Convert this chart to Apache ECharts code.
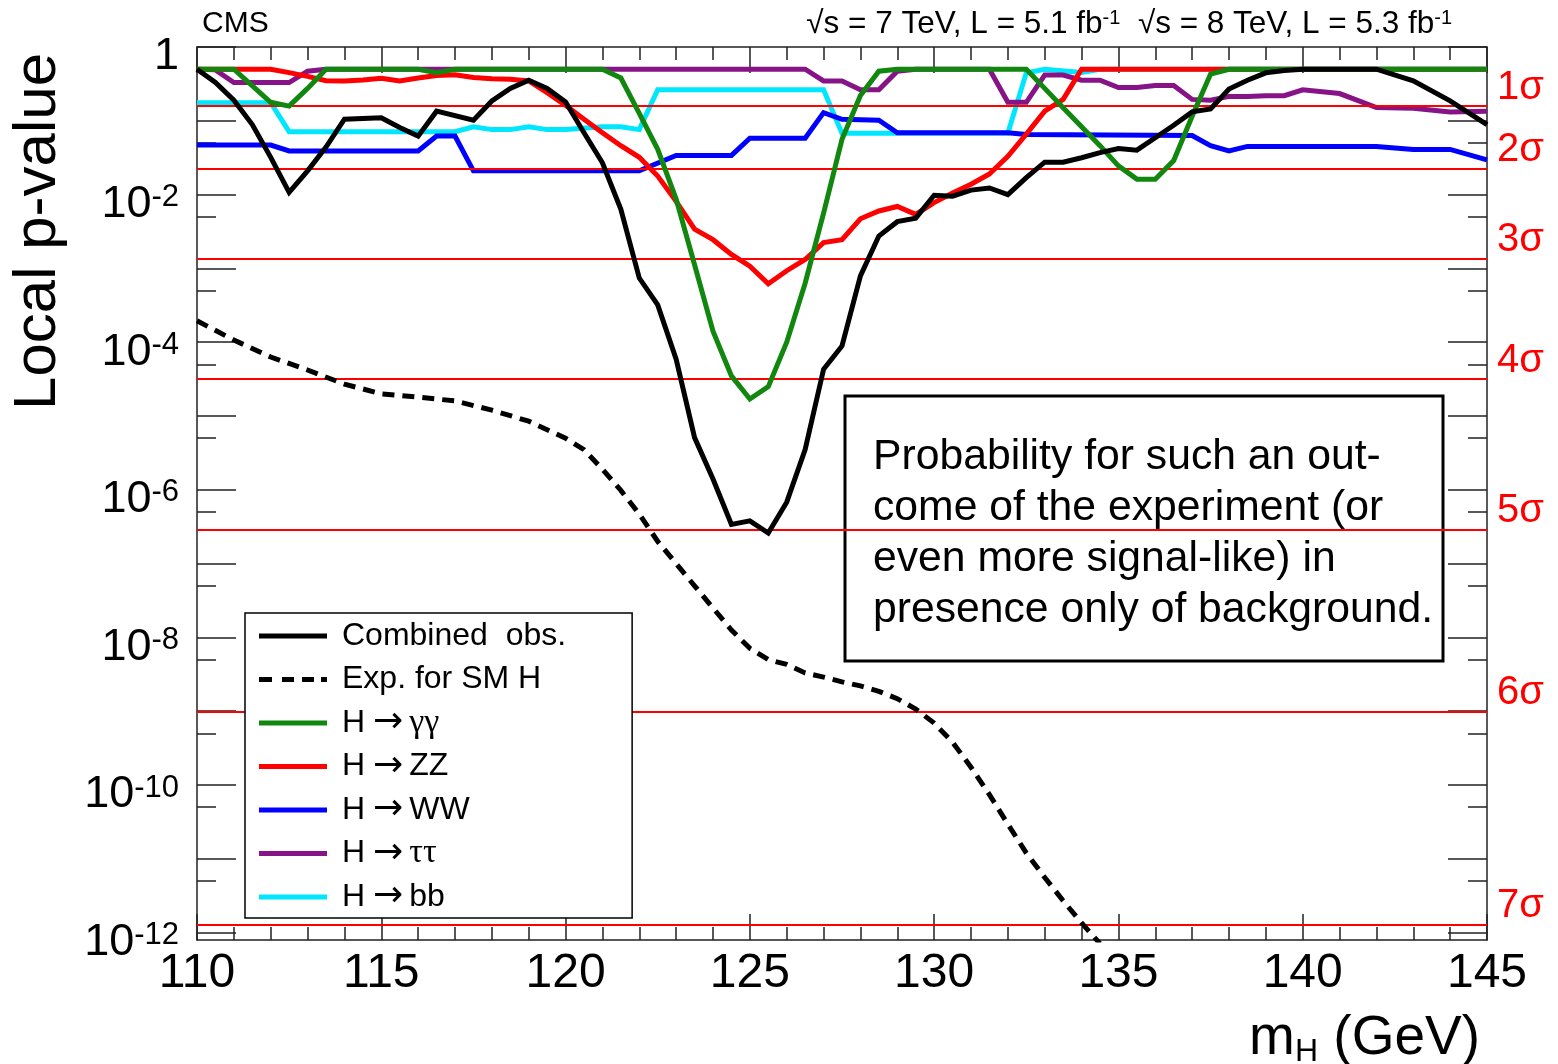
<!DOCTYPE html>
<html>
<head>
<meta charset="utf-8">
<script src="https://cdn.jsdelivr.net/npm/echarts@6/dist/echarts.min.js"></script>
<style>
  html, body { margin: 0; padding: 0; background: #fff; }
  #chart { width: 1558px; height: 1064px; }
</style>
</head>
<body>
<div id="chart"></div>
<script>
// Local p-value versus Higgs boson mass hypothesis, combined and per decay channel.
const FONT = '"Liberation Sans", Arial, Helvetica, sans-serif';

// Combined observed
const massCombined = [110, 110.5, 111, 111.5, 112, 112.5, 113, 113.5, 114, 115, 115.5, 116, 116.5, 117.5, 118, 118.5, 119, 119.5, 120, 120.5, 121, 121.5, 122, 122.5, 123, 123.5, 124, 124.5, 125, 125.5, 126, 126.5, 127, 127.5, 128, 128.5, 129, 129.5, 130, 130.5, 131, 131.5, 132, 132.5, 133, 133.5, 134, 134.5, 135, 135.5, 136, 136.5, 137, 137.5, 138, 138.5, 139, 139.5, 140, 142, 143, 144, 145];
const pCombined = [0.5, 0.33, 0.19, 0.089, 0.032, 0.0107, 0.021, 0.044, 0.105, 0.11, 0.081, 0.062, 0.135, 0.102, 0.186, 0.275, 0.355, 0.275, 0.18, 0.069, 0.027, 6.3e-3, 7.4e-4, 3.2e-4, 5.9e-5, 5.1e-6, 1.4e-6, 3.4e-7, 3.8e-7, 2.6e-7, 6.8e-7, 3.5e-6, 4.3e-5, 8.9e-5, 7.9e-4, 2.75e-3, 4.3e-3, 4.8e-3, 9.8e-3, 9.5e-3, 0.0115, 0.0123, 0.010, 0.017, 0.0275, 0.0275, 0.0316, 0.037, 0.042, 0.040, 0.059, 0.087, 0.132, 0.145, 0.27, 0.355, 0.447, 0.48, 0.5, 0.5, 0.347, 0.186, 0.089];

// Expected for a SM Higgs boson
const massExpected = [110, 111, 112, 113, 114, 115, 116, 117, 118, 119, 120, 120.5, 121, 121.5, 122, 122.5, 123, 123.5, 124, 124.5, 125, 125.5, 126, 126.5, 127, 127.5, 128, 128.5, 129, 129.5, 130, 130.5, 131, 131.5, 132, 132.5, 133, 133.5, 134, 134.5];
const pExpected = [1.95e-4, 1.07e-4, 6.3e-5, 4.2e-5, 2.7e-5, 2.0e-5, 1.8e-5, 1.6e-5, 1.2e-5, 8.5e-6, 5.0e-6, 3.5e-6, 1.9e-6, 9.8e-7, 4.7e-7, 2.0e-7, 1.0e-7, 5.0e-8, 2.5e-8, 1.26e-8, 7.1e-9, 5.0e-9, 4.3e-9, 3.3e-9, 2.9e-9, 2.5e-9, 2.2e-9, 1.86e-9, 1.48e-9, 1.07e-9, 6.9e-10, 3.8e-10, 1.74e-10, 7.4e-11, 2.95e-11, 1.2e-11, 5.6e-12, 2.7e-12, 1.35e-12, 7.1e-13];

// H -> gamma gamma
const massGG = [110, 111, 112, 112.5, 113, 113.5, 116, 116.5, 117, 121, 121.5, 122, 122.5, 123, 123.5, 124, 124.5, 125, 125.5, 126, 126.5, 127, 127.5, 128, 128.5, 129, 132.5, 133, 133.5, 134, 134.5, 135, 135.5, 136, 136.5, 137, 137.5, 138, 145];
const pGG = [0.5, 0.5, 0.178, 0.158, 0.275, 0.5, 0.5, 0.447, 0.5, 0.5, 0.38, 0.126, 0.041, 8.7e-3, 1.12e-3, 1.41e-4, 3.5e-5, 1.7e-5, 2.5e-5, 1.0e-4, 6.3e-4, 5.6e-3, 0.056, 0.22, 0.47, 0.5, 0.5, 0.275, 0.15, 0.083, 0.046, 0.0245, 0.0162, 0.0162, 0.029, 0.115, 0.43, 0.5, 0.5];

// H -> ZZ
const massZZ = [110, 112, 112.5, 113, 113.5, 114, 114.5, 115, 115.5, 116, 116.5, 117, 117.5, 118, 118.5, 119, 119.5, 120, 120.5, 121, 121.5, 122, 122.5, 123, 123.5, 124, 124.5, 125, 125.5, 126, 126.5, 127, 127.5, 128, 128.5, 129, 129.5, 130, 130.5, 131, 131.5, 132, 132.5, 133, 133.5, 134, 145];
const pZZ = [0.5, 0.5, 0.45, 0.40, 0.35, 0.347, 0.357, 0.377, 0.347, 0.38, 0.41, 0.42, 0.385, 0.37, 0.365, 0.347, 0.24, 0.162, 0.105, 0.069, 0.046, 0.032, 0.0178, 8.1e-3, 3.4e-3, 2.45e-3, 1.55e-3, 1.07e-3, 6.2e-4, 9.3e-4, 1.32e-3, 2.24e-3, 2.45e-3, 4.7e-3, 6.0e-3, 6.9e-3, 5.4e-3, 7.8e-3, 0.0105, 0.0138, 0.019, 0.033, 0.066, 0.135, 0.195, 0.5, 0.5];

// H -> WW
const massWW = [110, 112, 112.5, 116, 116.5, 117, 117.5, 122, 123, 124.5, 125, 126.5, 127, 127.5, 128.5, 129, 132, 132.5, 137, 137.5, 138, 138.5, 142, 143, 144, 145];
const pWW = [0.047, 0.047, 0.039, 0.039, 0.062, 0.062, 0.021, 0.021, 0.034, 0.034, 0.058, 0.058, 0.129, 0.105, 0.102, 0.069, 0.069, 0.065, 0.063, 0.046, 0.039, 0.045, 0.045, 0.041, 0.041, 0.0295];

// H -> tau tau
const massTT = [110, 110.5, 111, 112.5, 113, 113.5, 126.5, 127, 127.5, 128, 128.5, 129, 129.5, 131.5, 132, 132.5, 133, 133.5, 134, 134.5, 135, 135.5, 136, 136.5, 137, 137.5, 138, 138.5, 139, 139.5, 140, 141, 142, 143, 144, 145];
const pTT = [0.5, 0.49, 0.33, 0.33, 0.47, 0.5, 0.5, 0.347, 0.347, 0.263, 0.263, 0.47, 0.5, 0.5, 0.178, 0.178, 0.417, 0.417, 0.355, 0.355, 0.282, 0.282, 0.30, 0.30, 0.195, 0.19, 0.214, 0.214, 0.219, 0.219, 0.263, 0.234, 0.151, 0.148, 0.132, 0.135];

// H -> bb
const massBB = [110, 112, 112.5, 117, 117.5, 118, 118.5, 119, 119.5, 120, 121, 121.5, 122, 122.5, 127, 127.5, 132, 132.5, 133, 134, 134.5, 145];
const pBB = [0.176, 0.176, 0.0713, 0.0713, 0.083, 0.076, 0.076, 0.083, 0.076, 0.076, 0.083, 0.083, 0.076, 0.263, 0.263, 0.0676, 0.0676, 0.447, 0.5, 0.45, 0.5, 0.5];

// One-sided significance thresholds
const sigmaNames = ['1σ', '2σ', '3σ', '4σ', '5σ', '6σ', '7σ'];
const sigmaP = [0.1587, 0.02275, 1.350e-3, 3.167e-5, 2.867e-7, 9.866e-10, 1.280e-12];

// Axis ticks and labels
const xTickMin = 110, xTickMax = 145, xTickStep = 5;
const yRangeMin = 7.94e-13, yRangeMax = 1;
const decadeTicks = [1, 1e-1, 1e-2, 1e-3, 1e-4, 1e-5, 1e-6, 1e-7, 1e-8, 1e-9, 1e-10, 1e-11, 1e-12];
const halfDecadeTicks = [5e-1, 5e-2, 5e-3, 5e-4, 5e-5, 5e-6, 5e-7, 5e-8, 5e-9, 5e-10, 5e-11, 5e-12];
const labelledDecades = [1, 1e-2, 1e-4, 1e-6, 1e-8, 1e-10, 1e-12];

const noteLines = [
  'Probability for such an out-',
  'come of the experiment (or',
  'even more signal-like) in',
  'presence only of background.'
];

const pairs = (m, p) => m.map((x, i) => [x, p[i]]);
const AXIS_COLOR = '#222';

// legend keys: solid bar, and a dashed bar for the expectation
const SOLID_KEY = 'path://M0,0h68v5h-68z';
const DASH_KEY = 'path://M0,0h13v5h-13z M23,0h12v5h-12z M43,0h12v5h-12z M62,0h6v5h-6z';

function xAxisDef(position, showLabels) {
  return {
    type: 'value', position, min: xTickMin, max: xTickMax, interval: xTickStep,
    axisLine: { show: true, lineStyle: { color: AXIS_COLOR, width: 1.5 } },
    axisTick: { show: true, inside: true, length: 26, lineStyle: { color: AXIS_COLOR, width: 1.5 } },
    minorTick: { show: true, splitNumber: 5, length: 13, lineStyle: { color: AXIS_COLOR, width: 1.5 } },
    splitLine: { show: false },
    axisLabel: {
      show: showLabels, fontSize: 48, fontFamily: FONT, color: '#000', margin: 10,
      showMinLabel: true, showMaxLabel: true
    }
  };
}

function yAxisDef(position, tickValues, tickLen, withLine) {
  return {
    type: 'log', logBase: 10, position, min: yRangeMin, max: yRangeMax,
    axisLine: { show: withLine, lineStyle: { color: AXIS_COLOR, width: 1.5 } },
    axisTick: { show: true, inside: true, length: tickLen, customValues: tickValues,
                lineStyle: { color: AXIS_COLOR, width: 1.5 } },
    minorTick: { show: false },
    splitLine: { show: false },
    axisLabel: { show: false }
  };
}

const yMain = yAxisDef('left', decadeTicks, 39, true);
yMain.axisLabel = {
  show: true, customValues: labelledDecades, margin: 18, color: '#000',
  padding: [20, 0, 0, 0],
  formatter: function (v) {
    const e = Math.round(Math.log10(v));
    return e === 0 ? '{b|1}' : '{b|10}{s|' + e + '}';
  },
  rich: {
    b: { fontSize: 45, fontFamily: FONT, color: '#000', lineHeight: 45 },
    s: { fontSize: 31, fontFamily: FONT, color: '#000', lineHeight: 31, verticalAlign: 'top' }
  }
};

function lineSeries(name, data, color, z, dashed) {
  return {
    name, type: 'line', data, xAxisIndex: 0, yAxisIndex: 0, z,
    symbol: 'none', showSymbol: false, clip: true, silent: true,
    lineStyle: { color, width: 5, type: dashed ? [12, 8] : 'solid', cap: 'butt', join: 'miter' },
    itemStyle: { color }
  };
}

const legendNames = ['Combined  obs.', 'Exp. for SM H', 'H → γγ', 'H → ZZ', 'H → WW', 'H → ττ', 'H → bb'];

const option = {
  animation: false,
  backgroundColor: '#fff',
  textStyle: { fontFamily: FONT },
  grid: { left: 197, right: 71, top: 47, bottom: 124, containLabel: false, outerBoundsMode: 'none' },
  xAxis: [xAxisDef('bottom', true), xAxisDef('top', false)],
  yAxis: [
    yMain,
    yAxisDef('left', halfDecadeTicks, 19, false),
    yAxisDef('right', decadeTicks, 39, true),
    yAxisDef('right', halfDecadeTicks, 19, false)
  ],
  legend: {
    left: 245, top: 613, orient: 'vertical',
    data: legendNames.map((n, i) => ({ name: n, icon: i === 1 ? DASH_KEY : SOLID_KEY })),
    itemWidth: 68, itemHeight: 5, itemGap: 7.5,
    padding: [5, 66, 3, 14],
    backgroundColor: '#fff', borderColor: '#000', borderWidth: 1.5, borderRadius: 0,
    selectedMode: false, z: 20,
    formatter: function (name) {
      return '{n|' + name.replace(' → ', '}{r|→}{n|').replace(/([γτ]+)/, '}{g|$1') + '}';
    },
    textStyle: {
      fontSize: 32, fontFamily: FONT, color: '#000', lineHeight: 36, padding: [0, 0, 0, 10],
      rich: {
        n: { fontSize: 32, fontFamily: FONT, color: '#000', lineHeight: 36 },
        r: { fontSize: 36, fontFamily: '"DejaVu Sans", sans-serif', color: '#000', lineHeight: 36, padding: [0, 6, 0, 8] },
        g: { fontSize: 34, fontFamily: '"Liberation Serif", "DejaVu Serif", serif', color: '#000', lineHeight: 36 }
      }
    }
  },
  series: [
    {
      name: 'sigma', type: 'line', data: [], xAxisIndex: 0, yAxisIndex: 0, z: 1, silent: true,
      markLine: {
        silent: true, symbol: ['none', 'none'], animation: false, precision: 20,
        lineStyle: { color: '#ff0000', width: 2, type: 'solid' },
        label: {
          show: true, position: 'end', distance: 10, formatter: '{b}',
          color: '#ff0000', fontSize: 40, fontFamily: FONT, lineHeight: 37,
          verticalAlign: 'bottom', align: 'left'
        },
        emphasis: { disabled: true },
        data: sigmaNames.map((n, i) => ({ name: n, yAxis: sigmaP[i] }))
      }
    },
    lineSeries('H → bb', pairs(massBB, pBB), '#00e6ff', 2),
    lineSeries('H → ττ', pairs(massTT, pTT), '#861487', 3),
    lineSeries('H → WW', pairs(massWW, pWW), '#0000ff', 4),
    lineSeries('H → ZZ', pairs(massZZ, pZZ), '#ff0000', 5),
    lineSeries('H → γγ', pairs(massGG, pGG), '#12870f', 6),
    lineSeries('Exp. for SM H', pairs(massExpected, pExpected), '#000000', 7, true),
    lineSeries('Combined  obs.', pairs(massCombined, pCombined), '#000000', 8)
  ],
  graphic: [
    {
      type: 'text', x: 38, y: 53, rotation: Math.PI / 2, z: 30,
      style: { text: 'Local p-value', fontSize: 60, fontFamily: FONT, fill: '#000', align: 'right', verticalAlign: 'middle' }
    },
    {
      type: 'text', x: 1480, y: 1066, z: 30,
      style: {
        text: '{a|m}{h|H}{a| (GeV)}', align: 'right', verticalAlign: 'bottom', fill: '#000',
        rich: {
          a: { fontSize: 55, fontFamily: FONT, fill: '#000', lineHeight: 55, verticalAlign: 'top' },
          h: { fontSize: 32, fontFamily: FONT, fill: '#000', lineHeight: 32, padding: [28, 0, 0, 0] }
        }
      }
    },
    {
      type: 'text', x: 202, y: 24, z: 30,
      style: { text: 'CMS', fontSize: 30, fontFamily: FONT, fill: '#000', align: 'left', verticalAlign: 'middle' }
    },
    {
      type: 'text', x: 1452, y: 24, z: 30,
      style: {
        text: '{t|√s = 7 TeV, L = 5.1 fb}{s|-1}{t|  √s = 8 TeV, L = 5.3 fb}{s|-1}',
        align: 'right', verticalAlign: 'middle', fill: '#000',
        rich: {
          t: { fontSize: 31.5, fontFamily: FONT, fill: '#000', lineHeight: 31 },
          s: { fontSize: 20, fontFamily: FONT, fill: '#000', lineHeight: 20, verticalAlign: 'top' }
        }
      }
    },
    {
      type: 'group', x: 845, y: 396, z: 25,
      children: [
        { type: 'rect', shape: { x: 0, y: 0, width: 598, height: 265 },
          style: { fill: '#fff', stroke: '#000', lineWidth: 3 } },
        { type: 'text', x: 28, y: 36,
          style: { text: noteLines.join('\n'), fontSize: 42.7, fontFamily: FONT, fill: '#000',
                   lineHeight: 51, align: 'left', verticalAlign: 'top' } }
      ]
    }
  ]
};

const chart = echarts.init(document.getElementById('chart'), null, { renderer: 'canvas' });
chart.setOption(option);
</script>
</body>
</html>
